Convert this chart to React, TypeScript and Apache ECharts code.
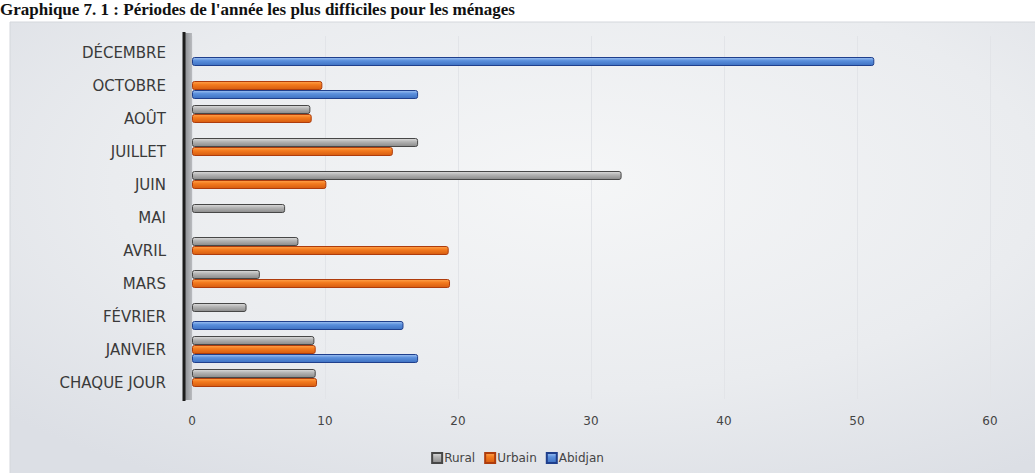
import React, { useEffect, useRef } from "react";
import * as echarts from "echarts";

const categories = [
  "CHAQUE JOUR",
  "JANVIER",
  "FÉVRIER",
  "MARS",
  "AVRIL",
  "MAI",
  "JUIN",
  "JUILLET",
  "AOÛT",
  "OCTOBRE",
  "DÉCEMBRE",
];

const rural = [9.3, 9.2, 4.1, 5.1, 8.0, 7.0, 32.3, 17.0, 8.9, null, null];
const urbain = [9.4, 9.3, null, 19.4, 19.3, null, 10.1, 15.1, 9.0, 9.8, null];
const abidjan = [null, 17.0, 15.9, null, null, null, null, null, null, 17.0, 51.3];

const xTicks = [0, 10, 20, 30, 40, 50, 60];

const title = "Graphique 7. 1 : Périodes de l'année les plus difficiles pour les ménages";

function grad(top: string, mid: string, bottom: string) {
  return new echarts.graphic.LinearGradient(0, 0, 0, 1, [
    { offset: 0, color: top },
    { offset: 0.4, color: mid },
    { offset: 1, color: bottom },
  ]);
}

export default function App() {
  const ref = useRef<HTMLDivElement>(null);
  useEffect(() => {
    if (!ref.current) return;
    const chart = echarts.init(ref.current, undefined, { renderer: "svg" });
    const barCommon = {
      type: "bar" as const,
      barWidth: 9,
      barGap: "0%",
      barCategoryGap: "18%",
    };
    chart.setOption({
      animation: false,
      backgroundColor: "#ffffff",
      graphic: [
        {
          type: "rect",
          silent: true,
          z: -10,
          shape: { x: 10, y: 22, width: 1030, height: 460 },
          style: {
            fill: new echarts.graphic.RadialGradient(0.55, 0.35, 0.75, [
              { offset: 0, color: "#f5f6f7" },
              { offset: 0.6, color: "#eaecef" },
              { offset: 1, color: "#dcdfe5" },
            ]),
            stroke: "#d4d7dc",
            lineWidth: 1,
          },
        },
        {
          type: "rect",
          silent: true,
          z: 1,
          shape: { x: 185, y: 33, width: 7, height: 367 },
          style: {
            fill: new echarts.graphic.LinearGradient(0, 0, 1, 0, [
              { offset: 0, color: "#8e9094" },
              { offset: 1, color: "#b9bbbf" },
            ]),
          },
        },
        {
          type: "line",
          silent: true,
          z: 2,
          shape: { x1: 184, y1: 32, x2: 184, y2: 401 },
          style: { stroke: "#1c1c1c", lineWidth: 3 },
        },
        {
          type: "text",
          silent: true,
          left: 0,
          top: 1,
          style: {
            text: title,
            font: 'bold 17px "Liberation Serif"',
            fill: "#111",
          },
        },
      ],
      legend: {
        data: ["Rural", "Urbain", "Abidjan"],
        left: "center",
        top: 447,
        itemWidth: 10,
        itemHeight: 10,
        itemGap: 9,
        icon: "rect",
        textStyle: { fontFamily: "DejaVu Sans", fontSize: 12, color: "#444", padding: [0, 0, 0, -3] },
      },
      grid: { left: 192, right: 45, top: 36, bottom: 74 },
      xAxis: {
        type: "value",
        min: xTicks[0],
        max: xTicks[xTicks.length - 1],
        interval: 10,
        axisLine: { show: false },
        axisTick: { show: false },
        axisLabel: { fontFamily: "DejaVu Sans", fontSize: 12, color: "#444", margin: 16 },
        splitLine: { show: true, lineStyle: { color: "#e2e4e8", width: 1 } },
      },
      yAxis: {
        type: "category",
        data: categories,
        axisTick: { show: false },
        axisLine: { show: false },
        axisLabel: { fontFamily: "DejaVu Sans", fontSize: 15, color: "#3a3a3a", margin: 26 },
      },
      series: [
        {
          ...barCommon,
          name: "Rural",
          data: rural,
          itemStyle: {
            color: grad("#dcdcdc", "#b4b4b4", "#8a8a8a"),
            borderColor: "#474747",
            borderWidth: 1,
            borderRadius: 2,
          },
        },
        {
          ...barCommon,
          name: "Urbain",
          data: urbain,
          itemStyle: {
            color: grad("#ffa24a", "#f37a1e", "#d65c10"),
            borderColor: "#ae3c0c",
            borderWidth: 1,
            borderRadius: 2,
          },
        },
        {
          ...barCommon,
          name: "Abidjan",
          data: abidjan,
          itemStyle: {
            color: grad("#a0c2f2", "#5a8fdc", "#3e71c2"),
            borderColor: "#1f3f8c",
            borderWidth: 1,
            borderRadius: 2,
          },
        },
      ],
    });
    return () => chart.dispose();
  }, []);
  return (
    <div
      ref={ref}
      style={{ position: "absolute", left: 0, top: 0, width: 1035, height: 473 }}
    />
  );
}
